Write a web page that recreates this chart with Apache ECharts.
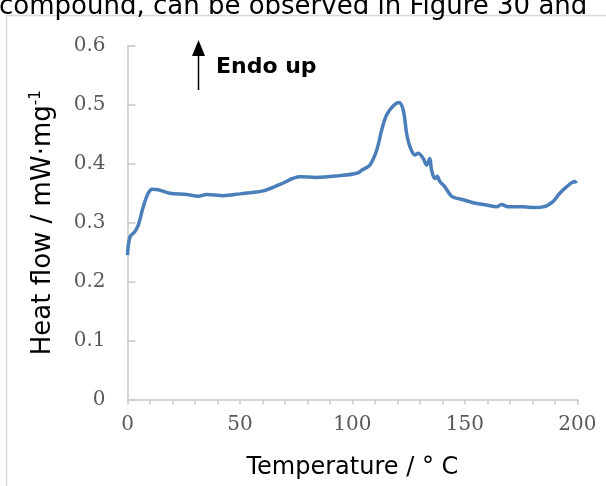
<!DOCTYPE html>
<html>
<head>
<meta charset="utf-8">
<script src="https://cdn.jsdelivr.net/npm/echarts@6/dist/echarts.min.js"></script>
<style>
html,body{margin:0;padding:0;background:#fff;}
#chart{width:606px;height:486px;}
</style>
</head>
<body>
<div id="chart"></div>
<script>
// Data (temperature in °C, heat flow in mW·mg-1)
const temperature = [0, 1.1, 3.3, 4.8, 7.0, 9.2, 11, 13.7, 18.9, 26.3, 31.5, 35.2, 42.6, 50, 54.4, 60.4, 67.8, 76.7, 84.1, 94.4, 101.9, 104.5, 107.8, 110.8, 113, 115.2, 118.1, 120.7, 122.6, 124.1, 125.6, 127.8, 129.2, 131.5, 133, 134.4, 135.2, 136.7, 137.7, 138.9, 141.1, 144.1, 147, 149.2, 153.7, 159.6, 164.1, 166.3, 169.2, 175.9, 181.1, 184.8, 189.2, 192.2, 195.2, 198.9, 199.6];
const heatFlow = [0.245, 0.276, 0.285, 0.296, 0.327, 0.350, 0.357, 0.356, 0.350, 0.348, 0.345, 0.348, 0.346, 0.349, 0.351, 0.354, 0.365, 0.378, 0.377, 0.380, 0.384, 0.390, 0.398, 0.423, 0.457, 0.483, 0.498, 0.504, 0.491, 0.452, 0.429, 0.415, 0.418, 0.409, 0.398, 0.409, 0.389, 0.375, 0.379, 0.370, 0.361, 0.345, 0.341, 0.339, 0.334, 0.330, 0.327, 0.331, 0.327, 0.327, 0.326, 0.327, 0.336, 0.350, 0.361, 0.370, 0.367];
const xTicks = [0, 50, 100, 150, 200];
const yTicks = [0, 0.1, 0.2, 0.3, 0.4, 0.5, 0.6];
const xTitle = 'Temperature / ° C';
const yTitle = 'Heat flow / mW·mg';
const annotation = 'Endo up';
const pageText = 'compound, can be observed in Figure 30 and';

const chart = echarts.init(document.getElementById('chart'), null, {renderer: 'canvas'});
const series = temperature.map((t, i) => [t, heatFlow[i]]);
const axisGray = '#c8c8c8';
const labelGray = '#595959';

chart.setOption({
  animation: false,
  backgroundColor: '#ffffff',
  grid: {left: 127.5, right: 28.7, top: 46, bottom: 86.5, containLabel: false},
  xAxis: {
    type: 'value', min: xTicks[0], max: xTicks[xTicks.length - 1], interval: 50,
    splitLine: {show: false},
    axisLine: {show: true, onZero: false, lineStyle: {color: axisGray, width: 1.5}},
    axisTick: {show: true, inside: false, length: 5, lineStyle: {color: axisGray, width: 1.5}},
    minorTick: {show: true, splitNumber: 5, length: 5, lineStyle: {color: axisGray, width: 1.5}},
    axisLabel: {color: labelGray, fontFamily: 'DejaVu Serif', fontSize: 20, margin: 15},
    name: xTitle, nameLocation: 'middle', nameGap: 56,
    nameTextStyle: {color: '#000', fontFamily: 'DejaVu Sans', fontSize: 24}
  },
  yAxis: {
    type: 'value', min: yTicks[0], max: yTicks[yTicks.length - 1], interval: 0.1,
    splitLine: {show: false},
    axisLine: {show: true, lineStyle: {color: axisGray, width: 1.5}},
    axisTick: {show: true, inside: true, length: 8, lineStyle: {color: axisGray, width: 1.5}},
    axisLabel: {color: labelGray, fontFamily: 'DejaVu Serif', fontSize: 20, margin: 22,
      formatter: v => (Math.round(v * 10) / 10).toString()},
    name: '{a|' + yTitle + '}{s|-1}', nameLocation: 'middle', nameGap: 69, nameRotate: 90,
    nameTextStyle: {
      color: '#000', fontFamily: 'DejaVu Sans', fontSize: 26,
      rich: {
        a: {color: '#000', fontFamily: 'DejaVu Sans', fontSize: 26, lineHeight: 30},
        s: {color: '#000', fontFamily: 'DejaVu Sans', fontSize: 15, lineHeight: 15, verticalAlign: 'top'}
      }
    }
  },
  series: [{
    type: 'line', data: series, showSymbol: false, smooth: 0.35,
    lineStyle: {color: '#4a7ebb', width: 3.5}, itemStyle: {color: '#4a7ebb'}
  }],
  graphic: [
    {type: 'rect', shape: {x: 6.5, y: 15.5, width: 700, height: 600}, silent: true,
     style: {fill: 'none', stroke: '#d9d9d9', lineWidth: 1.5}, z: -1},
    {type: 'text', left: -1, top: -6,
     style: {text: pageText, fill: '#000', font: '26px "DejaVu Sans"'}, z: 5},
    {type: 'line', shape: {x1: 198.5, y1: 90, x2: 198.5, y2: 52}, style: {stroke: '#000', lineWidth: 1.5}},
    {type: 'polygon', shape: {points: [[198.5, 40], [192, 56], [205, 56]]}, style: {fill: '#000'}},
    {type: 'text', left: 216, top: 56,
     style: {text: annotation, fill: '#000', font: 'bold 22px "DejaVu Sans"'}}
  ]
});
</script>
</body>
</html>
